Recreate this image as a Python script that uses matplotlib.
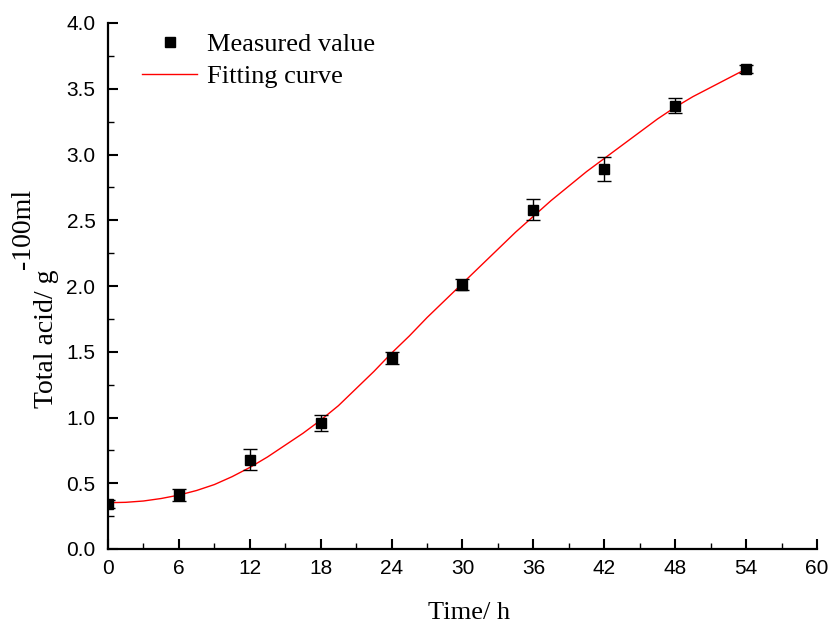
import numpy as np
import matplotlib
matplotlib.use("Agg")
import matplotlib.pyplot as plt
from matplotlib.ticker import MultipleLocator, FormatStrFormatter
from matplotlib.lines import Line2D

# measured data
time_h = [0, 6, 12, 18, 24, 30, 36, 42, 48, 54]
total_acid = [0.34, 0.41, 0.68, 0.96, 1.45, 2.01, 2.58, 2.89, 3.37, 3.65]
acid_err = [0.03, 0.045, 0.078, 0.06, 0.045, 0.04, 0.08, 0.088, 0.058, 0.027]

# fitting curve
fit_t = [0, 1.5, 3, 4.5, 6, 7.5, 9, 10.5, 12, 13.5, 15, 16.5, 18, 19.5, 21,
         22.5, 24, 25.5, 27, 28.5, 30, 31.5, 33, 34.5, 36, 37.5, 39, 40.5,
         42, 43.5, 45, 46.5, 48, 49.5, 51, 52.5, 54]
fit_acid = [0.352, 0.355, 0.365, 0.384, 0.41, 0.445, 0.49, 0.55, 0.62, 0.70,
            0.79, 0.88, 0.98, 1.09, 1.22, 1.35, 1.49, 1.62, 1.76, 1.89, 2.02,
            2.15, 2.28, 2.41, 2.53, 2.65, 2.76, 2.87, 2.97, 3.07, 3.17, 3.27,
            3.36, 3.44, 3.51, 3.58, 3.65]

W, H = 829, 623
fig = plt.figure(figsize=(W / 100, H / 100), dpi=100)
ax = fig.add_axes([108 / W, 1 - 549 / H, 709 / W, 526 / H])

ax.errorbar(time_h, total_acid, yerr=acid_err, fmt='s', color='black',
            markersize=7, ecolor='black', elinewidth=1, capsize=5,
            capthick=1, zorder=3)
ax.plot(fit_t, fit_acid, color='red', lw=1, zorder=2)

ax.set_xlim(0, 60)
ax.set_ylim(0, 4.0)
ax.xaxis.set_major_locator(MultipleLocator(6))
ax.xaxis.set_minor_locator(MultipleLocator(3))
ax.yaxis.set_major_locator(MultipleLocator(0.5))
ax.yaxis.set_minor_locator(MultipleLocator(0.25))
ax.yaxis.set_major_formatter(FormatStrFormatter('%.1f'))

for s in ['top', 'right']:
    ax.spines[s].set_visible(False)
for s in ['left', 'bottom']:
    ax.spines[s].set_linewidth(1.6)
ax.tick_params(which='major', direction='in', length=7, width=1.5,
               labelsize=15)
ax.tick_params(axis='x', which='major', pad=7)
ax.tick_params(axis='y', which='major', pad=9)
ax.tick_params(which='minor', direction='in', length=4, width=1)
for lab in ax.get_xticklabels() + ax.get_yticklabels():
    lab.set_family('Liberation Sans')

# axis labels
serif = 'Liberation Serif'
fig.text(469 / W, 1 - 619 / H, 'Time/ h', family=serif, fontsize=19,
         ha='center', va='baseline')
ylab = fig.text(53 / W, 1 - 408 / H, 'Total acid/ g', family=serif,
                fontsize=20, rotation=90, rotation_mode='anchor',
                ha='left', va='baseline')
fig.canvas.draw()
bb = ylab.get_window_extent()
fig.text(30 / W, bb.y1 / H, '-100ml', family=serif, fontsize=20,
         rotation=90, rotation_mode='anchor', ha='left', va='baseline')

# legend
handles = [Line2D([], [], ls='none', marker='s', color='black', markersize=7),
           Line2D([], [], color='red', lw=1)]
ax.legend(handles, ['Measured value', 'Fitting curve'], loc='upper left',
          frameon=False, prop={'family': serif, 'size': 19},
          bbox_to_anchor=(34 / 709, 0.982), borderaxespad=0, borderpad=0,
          handlelength=2.1, handletextpad=0.35, labelspacing=0.33)

fig.savefig('out.png', dpi=100)
